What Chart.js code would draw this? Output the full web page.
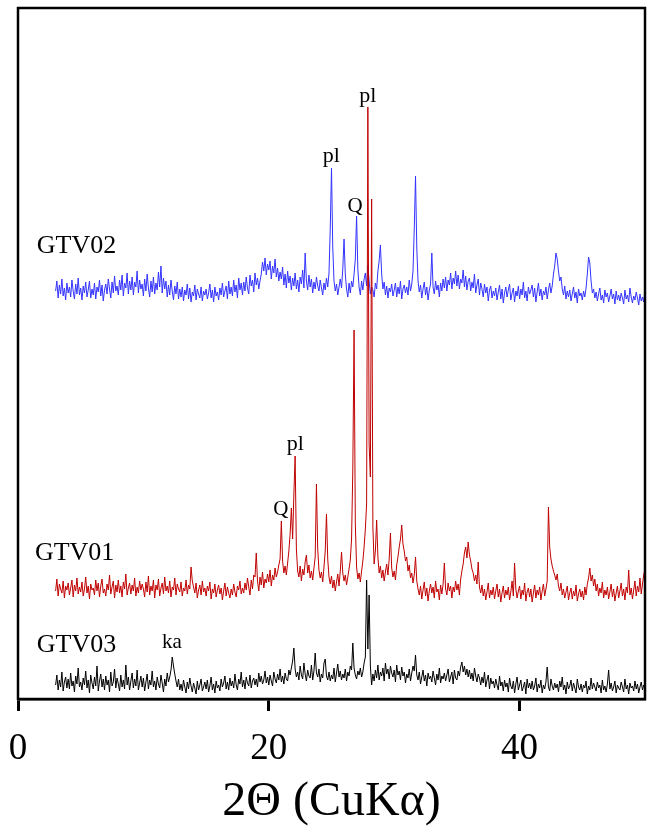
<!DOCTYPE html>
<html>
<head>
<meta charset="utf-8">
<script src="https://cdn.jsdelivr.net/npm/chart.js@4/dist/chart.umd.min.js"></script>
<style>
  html, body { margin: 0; padding: 0; background: #fff; }
  #wrap { width: 660px; height: 831px; }
</style>
</head>
<body>
<div id="wrap"><canvas id="graph"></canvas></div>
<script>
// scan: 3.0 to 50.0 deg 2theta, 0.1 deg step; intensities are offset counts (a.u.)
const twoThetaStart = 3.0;
const twoThetaStep = 0.1;
const xTicks = [0, 20, 40];

const gtv02 = [
  408, 418, 401, 414, 405, 420, 403, 411, 399, 416,
  406, 412, 402, 419, 408, 400, 415, 405, 421, 404,
  411, 399, 413, 406, 417, 402, 409, 418, 401, 410,
  404, 416, 400, 412, 407, 419, 403, 414, 398, 409,
  415, 405, 420, 410, 401, 417, 406, 423, 408, 413,
  404, 419, 409, 424, 403, 416, 411, 426, 405, 418,
  409, 422, 404, 417, 412, 428, 406, 419, 410, 415,
  403, 420, 408, 425, 411, 402, 418, 407, 422, 405,
  416, 409, 427, 412, 433, 406, 421, 410, 418, 402,
  414, 404, 419, 408, 399, 413, 405, 417, 400, 410,
  402, 412, 398, 409, 404, 415, 400, 411, 397, 407,
  403, 414, 399, 410, 405, 401, 412, 398, 408, 404,
  410, 400, 406, 415, 401, 409, 397, 412, 403, 407,
  399, 411, 404, 416, 402, 408, 413, 400, 418, 405,
  412, 403, 419, 407, 414, 401, 421, 409, 416, 404,
  417, 408, 422, 411, 405, 424, 413, 419, 407, 426,
  414, 421, 410, 418, 425, 437, 428, 441, 424, 435,
  429, 438, 420, 433, 426, 440, 422, 431, 418, 427,
  420, 432, 414, 425, 411, 428, 416, 423, 409, 421,
  413, 426, 410, 419, 407, 422, 415, 429, 411, 446,
  418, 409, 424, 412, 420, 406, 417, 410, 422, 413,
  408, 419, 411, 404, 416, 409, 421, 412, 426, 470,
  531, 452, 418, 408, 415, 404, 412, 420, 411, 430,
  460, 425, 410, 402, 416, 406, 418, 412, 425, 440,
  483, 430, 412, 404, 418, 409, 420, 426, 413, 434,
  418, 405, 412, 409, 402, 416, 410, 428, 438, 454,
  425, 410, 417, 404, 413, 401, 411, 407, 415, 403,
  409, 416, 402, 412, 405, 418, 400, 410, 414, 406,
  412, 404, 419, 408, 415, 428, 470, 523, 452, 418,
  407, 414, 401, 410, 417, 404, 412, 399, 409, 415,
  446, 412, 405, 418, 409, 414, 402, 416, 408, 420,
  411, 422, 408, 419, 414, 426, 410, 421, 415, 428,
  413, 424, 410, 420, 416, 429, 412, 423, 409, 418,
  421, 408, 417, 411, 425, 406, 414, 420, 404, 416,
  410, 402, 415, 406, 412, 398, 409, 413, 401, 408,
  403, 411, 399, 407, 414, 400, 410, 396, 406, 412,
  402, 409, 415, 399, 406, 411, 397, 408, 403, 413,
  400, 410, 404, 417, 401, 408, 398, 412, 405, 409,
  414, 402, 411, 397, 407, 416, 403, 410, 399, 408,
  404, 412, 400, 409, 416, 406, 413, 425, 433, 446,
  440, 428, 418, 422, 410, 404, 413, 400, 408, 402,
  409, 398, 405, 412, 401, 407, 396, 410, 403, 406,
  399, 408, 402, 411, 425, 442, 436, 418, 406, 410,
  401, 407, 398, 405, 411, 399, 404, 396, 409, 402,
  406, 397, 403, 410, 400, 405, 395, 408, 399, 404,
  398, 406, 401, 395, 409, 400, 404, 397, 411, 402,
  396, 403, 399, 407, 401, 394, 405, 398, 402, 397,
  410
];

const gtv01 = [
  108, 120, 103, 115, 110, 106, 118, 101, 113, 109,
  116, 104, 111, 119, 102, 114, 108, 121, 105, 112,
  107, 117, 103, 110, 122, 106, 113, 100, 115, 109,
  111, 104, 119, 108, 116, 102, 113, 120, 106, 110,
  103, 115, 109, 124, 105, 112, 118, 101, 114, 107,
  119, 106, 113, 102, 117, 110, 125, 104, 111, 116,
  105, 114, 108, 121, 103, 112, 106, 118, 109, 115,
  110, 102, 117, 107, 123, 104, 113, 108, 119, 101,
  114, 109, 120, 103, 111, 116, 105, 122, 108, 113,
  106, 118, 102, 112, 109, 121, 104, 115, 110, 107,
  117, 103, 111, 108, 119, 105, 114, 110, 132, 118,
  112, 106, 116, 101, 109, 114, 104, 118, 107, 111,
  103, 113, 108, 117, 100, 110, 106, 115, 102, 109,
  114, 105, 111, 99, 108, 116, 103, 112, 106, 101,
  110, 104, 115, 107, 102, 113, 109, 118, 105, 111,
  106, 116, 109, 121, 112, 104, 119, 110, 124, 122,
  146, 118, 108, 122, 114, 127, 111, 120, 116, 125,
  117, 129, 113, 124, 119, 131, 122, 127, 134, 140,
  178, 138, 126, 133, 124, 136, 148, 165, 191, 160,
  205, 243, 150, 128, 122, 133, 118, 130, 124, 137,
  144, 126, 134, 121, 128, 119, 131, 142, 215, 150,
  129, 121, 127, 117, 132, 148, 185, 140, 122, 115,
  123, 111, 119, 108, 117, 125, 113, 128, 147, 126,
  118, 124, 114, 122, 130, 139, 160, 230, 369, 175,
  132, 120, 126, 117, 128, 138, 152, 170, 195, 592,
  255, 222, 500, 172, 135, 148, 179, 142, 126, 133,
  121, 129, 118, 127, 135, 124, 140, 166, 131, 122,
  128, 119, 134, 142, 152, 160, 174, 155, 148, 138,
  142, 128, 134, 121, 126, 116, 124, 142, 118, 110,
  104, 113, 100, 109, 117, 103, 111, 98, 108, 115,
  106, 112, 101, 118, 107, 110, 99, 114, 105, 115,
  136, 110, 104, 116, 108, 113, 101, 112, 107, 118,
  109, 115, 104, 120, 128, 135, 146, 152, 141, 157,
  144, 138, 130, 126, 118, 124, 115, 137, 112, 106,
  114, 103, 110, 99, 107, 116, 101, 109, 104, 112,
  100, 108, 115, 102, 110, 97, 106, 113, 101, 109,
  104, 112, 99, 107, 118, 103, 136, 110, 101, 108,
  113, 100, 109, 104, 116, 98, 107, 111, 102, 110,
  97, 106, 114, 101, 109, 104, 112, 99, 108, 115,
  103, 110, 118, 192, 152, 140, 133, 128, 124, 119,
  125, 113, 108, 116, 104, 110, 101, 107, 113, 99,
  106, 111, 100, 108, 103, 114, 98, 105, 110, 102,
  108, 99, 112, 104, 115, 121, 131, 118, 124, 113,
  120, 108, 115, 103, 111, 106, 117, 101, 109, 104,
  112, 100, 107, 115, 102, 110, 98, 106, 113, 101,
  108, 116, 103, 110, 99, 112, 106, 129, 104, 111,
  100, 109, 118, 103, 113, 107, 121, 105, 115, 124,
  131
];

const gtv03 = [
  14, 24, 9, 19, 12, 27, 8, 17, 22, 11,
  20, 10, 26, 13, 18, 7, 23, 15, 31, 12,
  17, 9, 21, 14, 28, 11, 19, 6, 24, 16,
  10, 22, 13, 33, 8, 18, 25, 12, 20, 9,
  23, 14, 19, 7, 27, 13, 17, 30, 11, 21,
  15, 8, 24, 12, 19, 10, 34, 14, 22, 9,
  18, 26, 11, 20, 13, 29, 9, 16, 23, 12,
  21, 8, 17, 25, 10, 19, 14, 28, 12, 18,
  9, 22, 15, 11, 24, 16, 7, 20, 13, 26,
  17, 22, 29, 42, 33, 25, 18, 12, 20, 9,
  15, 8, 19, 12, 6, 17, 10, 21, 13, 7,
  16, 11, 5, 18, 9, 14, 20, 8, 12, 17,
  10, 19, 7, 13, 22, 9, 15, 6, 18, 11,
  14, 8, 20, 12, 16, 23, 10, 17, 9, 21,
  13, 18, 11, 25, 14, 9, 20, 15, 27, 12,
  19, 10, 22, 16, 13, 24, 11, 18, 21, 14,
  20, 12, 26, 17, 23, 15, 19, 28, 16, 22,
  14, 24, 18, 13, 27, 20, 16, 25, 19, 30,
  17, 23, 15, 26, 20, 18, 29, 24, 31, 38,
  51, 30, 22, 27, 19, 33, 24, 20, 36, 25,
  18, 29, 23, 21, 34, 19, 28, 46, 26, 22,
  30, 17, 25, 21, 36, 40, 23, 19, 27, 18,
  24, 20, 31, 17, 26, 35, 22, 28, 19, 25,
  21, 30, 18, 27, 23, 33, 29, 56, 31, 24,
  20, 28, 24, 31, 22, 27, 36, 42, 119, 50,
  104, 33, 14, 25, 18, 29, 21, 34, 19, 27,
  23, 31, 18, 36, 25, 30, 20, 33, 26, 22,
  29, 17, 34, 24, 28, 19, 32, 23, 27, 16,
  25, 21, 30, 18, 26, 33, 28, 44, 24, 19,
  27, 15, 22, 29, 18, 24, 13, 26, 20, 23,
  17, 28, 21, 14, 25, 19, 31, 16, 23, 20,
  26, 18, 24, 30, 17, 22, 27, 15, 29, 21,
  19, 28, 23, 32, 37, 27, 33, 24, 30, 22,
  29, 20, 26, 18, 31, 23, 17, 25, 21, 14,
  22, 16, 27, 12, 19, 24, 10, 21, 15, 18,
  11, 20, 14, 9, 23, 13, 17, 8, 19, 12,
  16, 7, 21, 13, 10, 18, 6, 15, 22, 9,
  14, 19, 8, 12, 17, 5, 20, 11, 16, 10,
  18, 9, 13, 21, 7, 15, 11, 19, 6, 14,
  10, 17, 32, 12, 8, 20, 13, 9, 16, 11,
  15, 7, 18, 12, 22, 9, 14, 5, 17, 10,
  13, 19, 8, 16, 11, 6, 20, 12, 9, 15,
  7, 14, 11, 18, 5, 13, 9, 21, 10, 16,
  12, 8, 17, 11, 14, 6, 19, 9, 13, 7,
  15, 29, 10, 16, 8, 12, 18, 6, 14, 11,
  9, 17, 12, 7, 20, 10, 14, 5, 16, 11,
  13, 8, 18, 10, 15, 6, 12, 17, 9, 14,
  11
];

const twoTheta = gtv02.map((_, i) => +(twoThetaStart + i * twoThetaStep).toFixed(1));
const toPoints = (vals) => vals.map((v, i) => ({ x: twoTheta[i], y: v }));

// text labels: [text, 2theta, intensity, size, align]
const labels = [
  ["GTV02", 1.5, 446, 26, "left"],
  ["GTV01", 1.35, 139, 26, "left"],
  ["GTV03", 1.5, 47, 26, "left"],
  ["pl", 24.98, 537, 22, "center"],
  ["pl", 27.89, 597, 22, "center"],
  ["Q", 26.89, 487, 21, "center"],
  ["pl", 22.11, 249, 22, "center"],
  ["Q", 20.96, 184, 21, "center"],
  ["ka", 12.27, 51, 21, "center"],
];

const serif = "'Liberation Serif', 'Times New Roman', serif";

const frameAndText = {
  id: "frameAndText",
  afterDatasetsDraw(chart) {
    const { ctx, chartArea: a, scales } = chart;
    ctx.save();
    ctx.strokeStyle = "#000";
    ctx.lineWidth = 2.5;
    ctx.strokeRect(a.left, a.top, a.right - a.left, a.bottom - a.top);
    ctx.fillStyle = "#000";
    ctx.textBaseline = "alphabetic";
    labels.forEach(([t, x, y, size, align]) => {
      ctx.font = size + "px " + serif;
      ctx.textAlign = align;
      ctx.fillText(t, scales.x.getPixelForValue(x), scales.y.getPixelForValue(y));
    });
    ctx.restore();
  },
};

let graph = document.getElementById("graph").getContext("2d");
let xrdChart = new Chart(graph, {
  type: "line",
  data: {
    datasets: [
      { label: "GTV03", data: toPoints(gtv03), borderColor: "#000000", borderWidth: 1 },
      { label: "GTV01", data: toPoints(gtv01), borderColor: "#c00000", borderWidth: 1 },
      { label: "GTV02", data: toPoints(gtv02), borderColor: "#3333ff", borderWidth: 1 },
    ],
  },
  options: {
    responsive: true,
    maintainAspectRatio: false,
    animation: false,
    elements: { point: { radius: 0 }, line: { tension: 0 } },
    layout: { padding: { left: 18, right: 15, top: 8, bottom: 0 } },
    plugins: { legend: { display: false }, tooltip: { enabled: false } },
    scales: {
      x: {
        type: "linear",
        min: 0,
        max: 50,
        afterBuildTicks: (scale) => { scale.ticks = xTicks.map((v) => ({ value: v })); },
        afterFit: (scale) => {
          scale.height = 132;
          scale.paddingLeft = 0;
          scale.paddingRight = 0;
        },
        ticks: {
          includeBounds: false,
          font: { family: serif, size: 37 },
          color: "#000",
          padding: 16,
          maxRotation: 0,
        },
        grid: { display: true, drawOnChartArea: false, drawTicks: true, tickLength: 12, tickWidth: 3, tickColor: "#000" },
        border: { display: true, color: "#000", width: 2.5 },
        title: {
          display: true,
          text: "2Θ (CuKα)",
          font: { family: serif, size: 48 },
          color: "#000",
          padding: 0,
        },
      },
      y: { display: false, min: 0, max: 691 },
    },
  },
  plugins: [frameAndText],
});
</script>
</body>
</html>
